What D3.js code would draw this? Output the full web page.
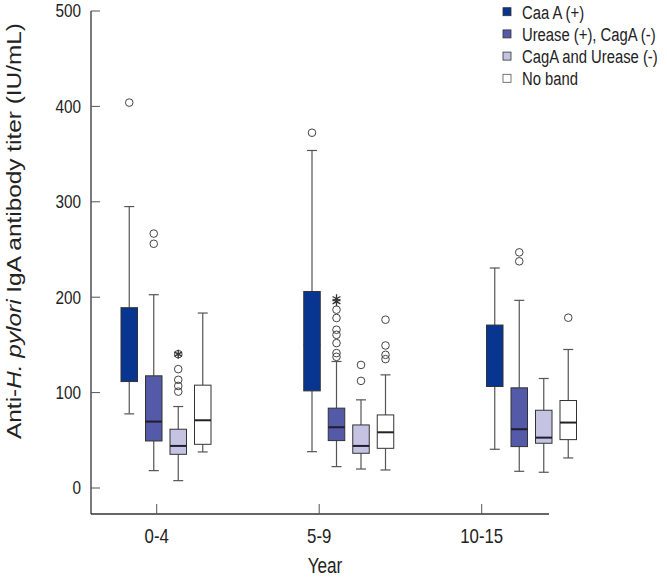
<!DOCTYPE html>
<html>
<head>
<meta charset="utf-8">
<script src="https://cdn.jsdelivr.net/npm/d3@7"></script>
<style>
  html, body { margin: 0; padding: 0; background: #fff; }
  svg { display: block; }
  text { font-family: "Liberation Sans", Arial, Helvetica, sans-serif; fill: #222; }
</style>
</head>
<body>
<svg id="chart" width="667" height="579"></svg>
<script>
// ---------------- data ----------------
const categories = ["0-4", "5-9", "10-15"];
const series = ["Caa A (+)", "Urease (+), CagA (-)", "CagA and Urease (-)", "No band"];
const yTicks = [0, 100, 200, 300, 400, 500];

// five-number summaries [lower whisker, Q1, median, Q3, upper whisker] per category
const caaA      = [[77.7, 111.6, 150, 189, 295], [38.1, 101.8, 150, 206, 353.8], [40.6, 106.4, 140, 170.8, 230.6]];
const ureasePos = [[18.2, 49.3, 69.6, 117.6, 202.6], [22.4, 49.7, 63.7, 83.7, 132.6], [17.5, 43.4, 61.6, 105, 196.7]];
const bothNeg   = [[7.7, 35.3, 44.1, 61.6, 85.4], [19.9, 36.4, 44.1, 66.1, 92.4], [16.5, 46.9, 52.8, 81.5, 114.8]];
const noBand    = [[37.8, 45.8, 71, 107.8, 183.4], [18.9, 41.6, 58.4, 76.6, 118.6], [31.5, 50.7, 68.6, 91.7, 145.2]];

// outliers (circles) per category
const caaAOut      = [[404], [372.4], []];
const ureasePosOut = [[266.7, 256], [186.9, 178.2, 165.9, 160.6, 151.9, 141.4, 137.5], [247, 237.6]];
const bothNegOut   = [[140.3, 124.6, 113.4, 107, 101], [129, 112.3], []];
const noBandOut    = [[], [176.4, 149.4, 139.6, 135.1], [178.5]];

// extreme values (asterisks) per category
const caaAExt      = [[], [], []];
const ureasePosExt = [[], [198.4, 195.3], []];
const bothNegExt   = [[140.3], [], []];
const noBandExt    = [[], [], []];

const colors = ["#073590", "#5459a8", "#c4c4e2", "#ffffff"];
const medianColors = ["#073590", "#1e1e2e", "#1e1e2e", "#222222"];

const summaries = [caaA, ureasePos, bothNeg, noBand];
const outliers = [caaAOut, ureasePosOut, bothNegOut, noBandOut];
const extremes = [caaAExt, ureasePosExt, bothNegExt, noBandExt];

// ---------------- layout ----------------
const svg = d3.select("#chart");
const axisX = 91, axisBottom = 514, axisRight = 549;

// condensed-looking text: anchored at (x, y), squeezed horizontally by k
function ctext(parent, x, y, k, rotate) {
  return parent.append("text")
    .attr("transform", `translate(${x},${y})${rotate ? ` rotate(${rotate})` : ""} scale(${k},1)`);
}

const y = d3.scaleLinear().domain([0, 500]).range([488, 11]);
const xTick = d3.scalePoint().domain(categories).range([156.7, 481.7]);
const xGroup = d3.scalePoint().domain(categories).range([166, 531.5]);
const xSub = d3.scalePoint().domain(series).range([-36.75, 36.75]);
const boxW = 16.5, capW = 10;

// ---------------- axes ----------------
const gAxes = svg.append("g");
gAxes.append("line").attr("x1", axisX).attr("x2", axisX).attr("y1", y(500)).attr("y2", axisBottom)
  .attr("stroke", "#333").attr("stroke-width", 1.3);
gAxes.append("line").attr("x1", axisX).attr("x2", axisRight).attr("y1", axisBottom).attr("y2", axisBottom)
  .attr("stroke", "#333").attr("stroke-width", 1.3);

yTicks.forEach(t => {
  gAxes.append("line").attr("x1", axisX).attr("x2", axisX + 9).attr("y1", y(t)).attr("y2", y(t))
    .attr("stroke", "#555").attr("stroke-width", 1);
  ctext(gAxes, 81, y(t), 0.85).attr("dy", "0.36em")
    .attr("text-anchor", "end").attr("font-size", 18).text(t);
});

categories.forEach(c => {
  gAxes.append("line").attr("x1", xTick(c)).attr("x2", xTick(c)).attr("y1", axisBottom).attr("y2", axisBottom - 10)
    .attr("stroke", "#555").attr("stroke-width", 1);
  ctext(gAxes, xTick(c), 543, 0.84).attr("text-anchor", "middle")
    .attr("font-size", 20).text(c);
});

ctext(svg, 325, 573, 0.78).attr("text-anchor", "middle")
  .attr("font-size", 22).text("Year");

const yTitle = svg.append("text").attr("transform", "translate(21,231) rotate(-90)")
  .attr("text-anchor", "middle").attr("font-size", 21);
yTitle.append("tspan").text("Anti-");
yTitle.append("tspan").attr("font-style", "italic").text("H. pylori");
yTitle.append("tspan").text(" IgA antibody titer (IU/mL)");
{
  const w = yTitle.node().getComputedTextLength();
  const k = 416 / w;
  yTitle.attr("transform", `translate(21,231) rotate(-90) scale(${k},1)`);
}

// ---------------- boxes ----------------
const asterisk = "M0,-4.5V4.5M-3.9,-2.25L3.9,2.25M-3.9,2.25L3.9,-2.25";

series.forEach((s, si) => {
  const g = svg.append("g");
  categories.forEach((c, ci) => {
    const cx = xGroup(c) + xSub(s);
    const [lo, q1, med, q3, hi] = summaries[si][ci];
    g.append("line").attr("x1", cx).attr("x2", cx).attr("y1", y(hi)).attr("y2", y(q3))
      .attr("stroke", "#555").attr("stroke-width", 1.2);
    g.append("line").attr("x1", cx).attr("x2", cx).attr("y1", y(q1)).attr("y2", y(lo))
      .attr("stroke", "#555").attr("stroke-width", 1.2);
    [hi, lo].forEach(v => {
      g.append("line").attr("x1", cx - capW / 2).attr("x2", cx + capW / 2).attr("y1", y(v)).attr("y2", y(v))
        .attr("stroke", "#555").attr("stroke-width", 1.2);
    });
    g.append("rect").attr("x", cx - boxW / 2).attr("y", y(q3)).attr("width", boxW).attr("height", y(q1) - y(q3))
      .attr("fill", colors[si]).attr("stroke", "#333").attr("stroke-width", 1);
    g.append("line").attr("x1", cx - boxW / 2).attr("x2", cx + boxW / 2).attr("y1", y(med)).attr("y2", y(med))
      .attr("stroke", medianColors[si]).attr("stroke-width", 2);
    outliers[si][ci].forEach(v => {
      g.append("circle").attr("cx", cx).attr("cy", y(v)).attr("r", 3.8)
        .attr("fill", "none").attr("stroke", "#444").attr("stroke-width", 1);
    });
    extremes[si][ci].forEach(v => {
      g.append("path").attr("d", asterisk).attr("transform", `translate(${cx},${y(v)})`)
        .attr("fill", "none").attr("stroke", "#333").attr("stroke-width", 1.3);
    });
  });
});

// ---------------- legend ----------------
const legend = svg.append("g");
const legendY = d3.scalePoint().domain(series).range([11.7, 78.3]);
series.forEach((s, si) => {
  legend.append("rect").attr("x", 503).attr("y", legendY(s) - 4).attr("width", 8).attr("height", 8)
    .attr("fill", colors[si]).attr("stroke", si === 3 ? "#555" : "#333").attr("stroke-width", 0.8);
  ctext(legend, 522, legendY(s), 0.78).attr("dy", "0.36em")
    .attr("font-size", 19).text(s);
});
</script>
</body>
</html>
